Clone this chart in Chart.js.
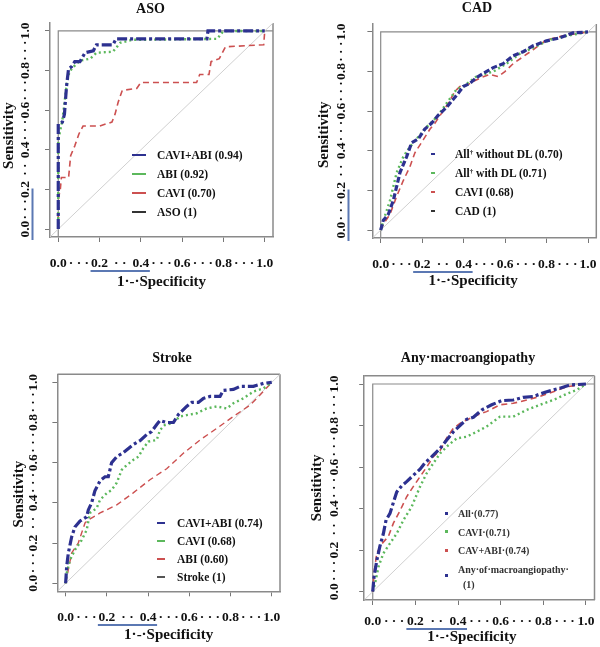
<!DOCTYPE html>
<html>
<head>
<meta charset="utf-8">
<script src="https://cdn.jsdelivr.net/npm/chart.js@4.4.1/dist/chart.umd.min.js"></script>
<style>
  html, body { margin: 0; padding: 0; background: #fff; overflow: hidden; }
  body { width: 600px; height: 647px; position: relative; }
  canvas { position: absolute; }
  .lg { position: absolute; white-space: nowrap; font: bold 11.5px "Liberation Serif", "Times New Roman", serif; color: #111; line-height: 14px; }
  .lg sup { font-size: 7px; vertical-align: 4px; line-height: 0; }
  .key { position: absolute; }
</style>
</head>
<body>
<canvas id="aso"></canvas>
<canvas id="cad"></canvas>
<canvas id="stroke"></canvas>
<canvas id="anyMacro"></canvas>
<script>
// shared axis values
const tickValues = [0, 0.1, 0.2, 0.3, 0.4, 0.5, 0.6, 0.7, 0.8, 0.9, 1.0];
const tickLabels = ['0.0', '· · ·', '0.2', '· ·', '0.4', '· · ·', '0.6', '· · ·', '0.8', '· · ·', '1.0'];
const diagX = [-0.04, 1.04];
const diagY = [-0.04, 1.04];

// ASO
const asoCaviAbiX = [0, 0, 0.02, 0.03, 0.04, 0.05, 0.065, 0.08, 0.105, 0.13, 0.17, 0.185, 0.265, 0.28, 0.72, 0.725, 1];
const asoCaviAbiY = [0, 0.53, 0.54, 0.58, 0.72, 0.81, 0.82, 0.845, 0.845, 0.89, 0.9, 0.93, 0.93, 0.96, 0.96, 1, 1];
const asoAbiX = [0, 0, 0.02, 0.04, 0.05, 0.065, 0.105, 0.155, 0.185, 0.265, 0.3, 0.36, 0.77, 0.8, 1];
const asoAbiY = [0, 0.45, 0.55, 0.72, 0.78, 0.81, 0.85, 0.86, 0.89, 0.895, 0.94, 0.955, 0.96, 1, 1];
const asoCaviX = [0, 0, 0.01, 0.015, 0.05, 0.06, 0.08, 0.1, 0.12, 0.2, 0.26, 0.275, 0.29, 0.31, 0.38, 0.4, 0.67, 0.685, 0.73, 0.74, 0.78, 0.81, 0.995, 1];
const asoCaviY = [0, 0.15, 0.2, 0.26, 0.26, 0.37, 0.42, 0.48, 0.52, 0.52, 0.54, 0.58, 0.64, 0.7, 0.71, 0.74, 0.74, 0.78, 0.78, 0.845, 0.86, 0.92, 0.93, 1];
const asoLabels = ['CAVI+ABI (0.94)', 'ABI (0.92)', 'CAVI (0.70)', 'ASO (1)'];

// CAD
const cadNoDlX = [0, 0.013, 0.037, 0.061, 0.077, 0.093, 0.125, 0.149, 0.181, 0.213, 0.246, 0.278, 0.318, 0.35, 0.374, 0.398, 0.43, 0.462, 0.494, 0.543, 0.591, 0.639, 0.687, 0.735, 0.8, 0.864, 0.928, 1];
const cadNoDlY = [0, 0.05, 0.08, 0.15, 0.22, 0.29, 0.37, 0.44, 0.46, 0.51, 0.54, 0.58, 0.62, 0.66, 0.69, 0.725, 0.74, 0.77, 0.79, 0.82, 0.84, 0.88, 0.9, 0.93, 0.955, 0.97, 0.995, 1];
const cadWithDlX = [0, 0.02, 0.045, 0.077, 0.109, 0.141, 0.173, 0.222, 0.27, 0.318, 0.366, 0.398, 0.462, 0.543, 0.607, 0.671, 0.735, 0.815, 0.896, 1];
const cadWithDlY = [0, 0.07, 0.15, 0.29, 0.37, 0.42, 0.46, 0.52, 0.57, 0.64, 0.71, 0.725, 0.775, 0.8, 0.84, 0.89, 0.92, 0.96, 0.98, 1];
const cadCaviX = [0, 0.013, 0.045, 0.077, 0.109, 0.141, 0.165, 0.205, 0.238, 0.262, 0.294, 0.326, 0.358, 0.382, 0.414, 0.446, 0.486, 0.526, 0.567, 0.599, 0.639, 0.687, 0.735, 0.8, 0.88, 1];
const cadCaviY = [0, 0.03, 0.08, 0.17, 0.25, 0.32, 0.39, 0.455, 0.51, 0.54, 0.59, 0.64, 0.7, 0.725, 0.73, 0.75, 0.77, 0.785, 0.775, 0.8, 0.84, 0.875, 0.91, 0.96, 0.98, 1];
const cadLabels = ['All<sup>†</sup> without DL (0.70)', 'All<sup>†</sup> with DL (0.71)', 'CAVI (0.68)', 'CAD (1)'];

// Stroke
const strokeCaviAbiX = [0, 0.005, 0.013, 0.029, 0.045, 0.07, 0.102, 0.11, 0.126, 0.142, 0.167, 0.191, 0.207, 0.223, 0.248, 0.28, 0.328, 0.361, 0.393, 0.417, 0.442, 0.458, 0.49, 0.523, 0.547, 0.587, 0.612, 0.644, 0.668, 0.701, 0.749, 0.765, 0.814, 0.846, 0.911, 0.96, 1];
const strokeCaviAbiY = [0, 0.083, 0.15, 0.23, 0.28, 0.31, 0.33, 0.365, 0.4, 0.46, 0.51, 0.53, 0.53, 0.6, 0.63, 0.65, 0.69, 0.71, 0.74, 0.755, 0.79, 0.81, 0.8, 0.8, 0.84, 0.88, 0.9, 0.9, 0.92, 0.93, 0.93, 0.96, 0.965, 0.98, 0.98, 0.995, 1];
const strokeCaviX = [0, 0.005, 0.021, 0.045, 0.078, 0.102, 0.118, 0.15, 0.167, 0.199, 0.223, 0.248, 0.272, 0.288, 0.328, 0.353, 0.377, 0.401, 0.442, 0.458, 0.482, 0.515, 0.555, 0.587, 0.636, 0.684, 0.733, 0.782, 0.814, 0.862, 0.911, 0.96, 1];
const strokeCaviY = [0, 0.05, 0.116, 0.166, 0.215, 0.265, 0.35, 0.373, 0.415, 0.448, 0.464, 0.5, 0.564, 0.58, 0.614, 0.63, 0.672, 0.705, 0.713, 0.763, 0.788, 0.796, 0.83, 0.837, 0.846, 0.87, 0.88, 0.87, 0.896, 0.92, 0.954, 0.97, 1];
const strokeAbiX = [0, 0.029, 0.061, 0.094, 0.11, 0.167, 0.248, 0.328, 0.409, 0.49, 0.571, 0.652, 0.733, 0.814, 0.895, 0.943, 1];
const strokeAbiY = [0, 0.15, 0.2, 0.3, 0.315, 0.35, 0.39, 0.45, 0.515, 0.57, 0.647, 0.713, 0.771, 0.83, 0.887, 0.937, 1];
const strokeLabels = ['CAVI+ABI (0.74)', 'CAVI (0.68)', 'ABI (0.60)', 'Stroke (1)'];

// Any macroangiopathy
const anyAllX = [0, 0.006, 0.019, 0.034, 0.05, 0.0625, 0.081, 0.097, 0.1125, 0.136, 0.159, 0.19, 0.222, 0.245, 0.277, 0.316, 0.347, 0.378, 0.409, 0.44, 0.472, 0.511, 0.558, 0.605, 0.659, 0.706, 0.753, 0.816, 0.878, 0.925, 1];
const anyAllY = [0, 0.07, 0.15, 0.22, 0.28, 0.345, 0.377, 0.43, 0.48, 0.51, 0.53, 0.56, 0.59, 0.62, 0.65, 0.69, 0.73, 0.77, 0.8, 0.83, 0.84, 0.875, 0.9, 0.92, 0.923, 0.936, 0.94, 0.963, 0.98, 0.995, 1];
const anyCaviAbiX = [0, 0.006, 0.019, 0.042, 0.073, 0.097, 0.128, 0.159, 0.19, 0.222, 0.253, 0.284, 0.316, 0.347, 0.378, 0.409, 0.44, 0.4875, 0.534, 0.597, 0.659, 0.722, 0.784, 0.847, 0.909, 1];
const anyCaviAbiY = [0, 0.09, 0.185, 0.23, 0.265, 0.33, 0.39, 0.457, 0.506, 0.554, 0.6, 0.65, 0.68, 0.74, 0.787, 0.81, 0.827, 0.85, 0.867, 0.9, 0.907, 0.923, 0.94, 0.963, 0.987, 1];
const anyCaviX = [0, 0.011, 0.027, 0.05, 0.081, 0.1125, 0.144, 0.183, 0.222, 0.253, 0.284, 0.316, 0.355, 0.394, 0.44, 0.4875, 0.534, 0.597, 0.659, 0.722, 0.784, 0.847, 0.909, 0.956, 1];
const anyCaviY = [0, 0.04, 0.12, 0.185, 0.233, 0.28, 0.345, 0.41, 0.506, 0.57, 0.618, 0.666, 0.706, 0.738, 0.746, 0.77, 0.795, 0.843, 0.843, 0.875, 0.9, 0.923, 0.952, 0.971, 1];
const anyLabels = ['All·(0.77)', 'CAVI·(0.71)', 'CAV+ABI·(0.74)', 'Any·of·macroangiopathy·<br>&nbsp;&nbsp;(1)'];

const BLUE = '#2d3190', GREEN = '#5cb85c', RED = '#cc5050';

Chart.defaults.font.family = "'Liberation Serif', 'Times New Roman', serif";
Chart.defaults.color = '#111';

const pts = (xs, ys) => xs.map((x, i) => ({ x, y: ys[i] }));

function curve(xs, ys, color, width, dash, order) {
  return { data: pts(xs, ys), borderColor: color, borderWidth: width, borderDash: dash,
           pointRadius: 0, fill: false, tension: 0, order };
}

function diagonal() {
  return curve(diagX, diagY, '#d0d0d0', 1, [], 10);
}

// trailing no-break spaces nudge a centred title off the axis centre, as in the source figure
const pad = (text, n) => text + '\u00a0'.repeat(n);

const framePlugin = {
  id: 'frame',
  beforeDatasetsDraw(chart, args, o) {
    const { ctx, chartArea: a, scales: { x, y } } = chart;
    ctx.save();
    ctx.strokeStyle = '#8a8a8a';
    ctx.lineWidth = 1.5;
    ctx.beginPath();
    ctx.moveTo(a.right, a.bottom);
    ctx.lineTo(a.right, a.top);
    if (o.topLine) {
      ctx.moveTo(a.left, a.top);
      ctx.lineTo(a.right, a.top);
    }
    ctx.stroke();
    if (o.inner) {
      ctx.lineWidth = 1.2;
      ctx.beginPath();
      ctx.moveTo(x.getPixelForValue(0), a.bottom);
      ctx.lineTo(x.getPixelForValue(0), y.getPixelForValue(1));
      ctx.lineTo(a.right, y.getPixelForValue(1));
      ctx.stroke();
    }
    ctx.restore();
  },
  afterDraw(chart, args, o) {
    const { ctx, scales: { x, y } } = chart;
    ctx.save();
    ctx.strokeStyle = '#5b78b3';
    ctx.lineWidth = 2;
    ctx.beginPath();
    ctx.moveTo(x.getPixelForValue(0.2) - 9, o.xLine);
    ctx.lineTo(x.getPixelForValue(0.4) + 9, o.xLine);
    if (o.yLine) {
      ctx.moveTo(o.yLine, y.getPixelForValue(0) + 11);
      ctx.lineTo(o.yLine, y.getPixelForValue(0.2) - 1);
    }
    ctx.stroke();
    ctx.restore();
  }
};

const panels = [
  { id: 'aso', title: 'ASO', cL: 0, cR: 301, cT: 0, cB: 300,
    box: { l: 50, r: 273, t: 23, b: 237 },
    titleY: 9, yTitleX: 9.5, yLabelX: 27, xLabelY: 264, xTitleY: 282,
    xShift: 0, yShift: 3,
    topLine: false, inner: true, yUnderline: true,
    datasets: [
      curve(asoCaviAbiX, asoCaviAbiY, BLUE, 3.2, [10, 3, 3, 3], 1),
      curve(asoAbiX, asoAbiY, GREEN, 2.4, [2, 3], 2),
      curve(asoCaviX, asoCaviY, RED, 1.6, [6, 4], 3),
      diagonal()
    ],
    legend: { labels: asoLabels, colors: [BLUE, GREEN, RED, '#333'], y0: 155, dy: 19,
              keyX: 132, keyW: 14, keyH: 2, textX: 157 } },
  { id: 'cad', title: 'CAD', cL: 310, cR: 644, cT: 0, cB: 300,
    box: { l: 372.4, r: 596.3, t: 24, b: 238 },
    titleY: 8.5, yTitleX: 324, yLabelX: 343, xLabelY: 265, xTitleY: 281,
    xShift: 6, yShift: 2,
    topLine: false, inner: true, yUnderline: true,
    datasets: [
      curve(cadNoDlX, cadNoDlY, BLUE, 3.2, [6, 2.5], 1),
      curve(cadWithDlX, cadWithDlY, GREEN, 2.4, [2, 3], 2),
      curve(cadCaviX, cadCaviY, RED, 1.6, [6, 4], 3),
      diagonal()
    ],
    legend: { labels: cadLabels, colors: [BLUE, GREEN, RED, '#333'], y0: 154, dy: 19,
              keyX: 431, keyW: 4, keyH: 2, textX: 455 } },
  { id: 'stroke', title: 'Stroke', cL: 0, cR: 344, cT: 320, cB: 647,
    box: { l: 57.4, r: 280, t: 374.3, b: 591.3 },
    titleY: 358, yTitleX: 19, yLabelX: 34.7, xLabelY: 618, xTitleY: 635,
    xShift: 0, yShift: 6,
    topLine: true, inner: false, yUnderline: false,
    datasets: [
      curve(strokeCaviAbiX, strokeCaviAbiY, BLUE, 3.2, [10, 3, 3, 3], 1),
      curve(strokeCaviX, strokeCaviY, GREEN, 2.4, [2, 3], 2),
      curve(strokeAbiX, strokeAbiY, RED, 1.4, [6, 4], 3),
      diagonal()
    ],
    legend: { labels: strokeLabels, colors: [BLUE, GREEN, RED, '#555'], y0: 523, dy: 18,
              keyX: 157, keyW: 8, keyH: 2, textX: 177 } },
  { id: 'anyMacro', title: 'Any·macroangiopathy', cL: 305, cR: 631, cT: 320, cB: 647,
    box: { l: 364.2, r: 594.5, t: 375.7, b: 600 },
    titleY: 358, yTitleX: 317.5, yLabelX: 336, xLabelY: 622, xTitleY: 637,
    xShift: 4, yShift: 0,
    topLine: true, inner: true, yUnderline: false,
    datasets: [
      curve(anyAllX, anyAllY, BLUE, 3.2, [10, 3, 3, 3], 1),
      curve(anyCaviAbiX, anyCaviAbiY, RED, 1.6, [6, 4], 2),
      curve(anyCaviX, anyCaviY, GREEN, 2.4, [2, 3], 3),
      diagonal()
    ],
    legend: { labels: anyLabels, colors: [BLUE, GREEN, RED, BLUE], y0: 513, dy: 18.5,
              keyX: 445, keyW: 3, keyH: 3, textX: 458, small: true } }
];

function addLegend(p) {
  const L = p.legend;
  L.labels.forEach((label, i) => {
    const y = L.y0 + i * L.dy;
    const lines = label.split('<br>').length;
    const key = document.createElement('div');
    key.className = 'key';
    key.style.cssText = `left:${L.keyX}px;top:${y + (lines - 1) * 7 - L.keyH / 2}px;width:${L.keyW}px;height:${L.keyH}px;background:${L.colors[i]};`;
    document.body.appendChild(key);
    const t = document.createElement('div');
    t.className = 'lg';
    t.style.left = L.textX + 'px';
    t.style.top = (y - 7) + 'px';
    if (L.small) { t.style.fontSize = '10px'; t.style.color = '#333'; t.style.lineHeight = '15px'; }
    t.innerHTML = label;
    document.body.appendChild(t);
  });
}

function makePanel(p) {
  const canvas = document.getElementById(p.id);
  canvas.width = p.cR - p.cL;
  canvas.height = p.cB - p.cT;
  canvas.style.left = p.cL + 'px';
  canvas.style.top = p.cT + 'px';
  const lhT = 14 * 1.2, lhA = 15 * 1.2, lhK = 13.5 * 1.2;
  const titleTop = p.titleY - p.cT - lhT / 2;
  const tickFont = { size: 13.5, weight: 'bold' };
  const titleFont = { size: 14, weight: 'bold' };
  const axisFont = { size: 15, weight: 'bold' };
  const grid = { drawOnChartArea: false, tickLength: 5, tickWidth: 1,
                 tickColor: ctx => (ctx.index % 2 ? 'rgba(0,0,0,0)' : '#777') };
  new Chart(canvas, {
    type: 'line',
    data: { datasets: p.datasets },
    options: {
      responsive: false,
      animation: false,
      devicePixelRatio: 1,
      plugins: {
        legend: { display: false },
        tooltip: { enabled: false },
        title: { display: true, text: p.title, color: '#111', font: titleFont,
                 padding: { top: titleTop, bottom: p.box.t - p.cT - lhT - titleTop } },
        frame: {
          topLine: p.topLine, inner: p.inner,
          xLine: p.xLabelY + 7 - p.cT,
          yLine: p.yUnderline ? p.yLabelX + 5.5 - p.cL : 0
        }
      },
      scales: {
        x: {
          type: 'linear', min: -0.04, max: 1.04,
          afterBuildTicks: s => { s.ticks = tickValues.map(v => ({ value: v })); },
          afterFit: s => { s.height = p.cB - p.box.b; },
          ticks: { autoSkip: false, minRotation: 0, maxRotation: 0, font: tickFont, color: '#111',
                   padding: p.xLabelY - p.box.b - 5 - lhK / 2,
                   callback: (v, i) => tickLabels[i] },
          grid,
          border: { display: true, color: '#8a8a8a', width: 1.5 },
          title: { display: true, text: pad('1·-·Specificity', p.xShift), color: '#111', font: axisFont,
                   padding: { top: 0, bottom: p.cB - p.xTitleY - lhA / 2 } }
        },
        y: {
          type: 'linear', min: -0.04, max: 1.04,
          afterBuildTicks: s => { s.ticks = tickValues.map(v => ({ value: v })); },
          afterFit: s => { s.width = p.box.l - p.cL; },
          ticks: { autoSkip: false, minRotation: 90, maxRotation: 90, crossAlign: 'center',
                   font: tickFont, color: '#111',
                   padding: p.box.l - p.yLabelX - 5 - 8.5,
                   callback: (v, i) => tickLabels[i] },
          grid,
          border: { display: true, color: '#8a8a8a', width: 1.5 },
          title: { display: true, text: pad('Sensitivity', p.yShift), color: '#111', font: axisFont,
                   padding: { top: p.yTitleX - p.cL - lhA / 2, bottom: 0 } }
        },
        y2: {
          type: 'linear', position: 'right', display: true,
          ticks: { display: false }, grid: { display: false }, border: { display: false },
          afterFit: s => { s.width = p.cR - p.box.r; }
        }
      }
    },
    plugins: [framePlugin]
  });
  addLegend(p);
}

panels.forEach(makePanel);
</script>
</body>
</html>
